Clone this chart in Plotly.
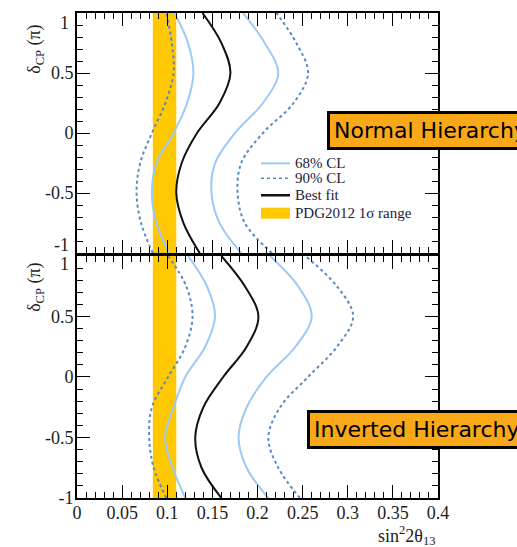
import plotly.graph_objects as go

# ---- data ----
delta = [-1, -0.75, -0.5, -0.25, 0, 0.25, 0.5, 0.75, 1]

# Normal hierarchy
nh_best = [0.136, 0.118, 0.110, 0.116, 0.133, 0.158, 0.170, 0.160, 0.139]
nh_68_in = [0.102, 0.088, 0.083, 0.088, 0.107, 0.122, 0.129, 0.123, 0.108]
nh_68_out = [0.182, 0.158, 0.149, 0.153, 0.175, 0.206, 0.223, 0.208, 0.184]
nh_90_in = [0.084, 0.071, 0.066, 0.070, 0.083, 0.098, 0.107, 0.105, 0.099]
nh_90_out = [0.216, 0.186, 0.178, 0.182, 0.206, 0.240, 0.256, 0.243, 0.221]

# Inverted hierarchy
ih_best = [0.160, 0.138, 0.131, 0.140, 0.162, 0.188, 0.201, 0.186, 0.160]
ih_68_in = [0.120, 0.106, 0.0975, 0.107, 0.120, 0.142, 0.153, 0.144, 0.123]
ih_68_out = [0.212, 0.188, 0.179, 0.188, 0.210, 0.242, 0.260, 0.245, 0.214]
ih_90_in = [0.099, 0.085, 0.080, 0.083, 0.101, 0.120, 0.128, 0.121, 0.101]
ih_90_out = [0.247, 0.223, 0.212, 0.225, 0.256, 0.288, 0.306, 0.288, 0.253]

pdg_range = [0.084, 0.110]  # PDG2012 1 sigma range of sin^2 2theta13

x_ticks = [0, 0.05, 0.1, 0.15, 0.2, 0.25, 0.3, 0.35, 0.4]
y_ticks_inner = [-0.5, 0, 0.5]
legend_labels = ["68% CL", "90% CL", "Best fit", "PDG2012 1σ range"]

# ---- styles ----
C68 = "#9ccaf6"
C90 = "#5a8ac4"
CBEST = "#111111"
CBAND = "#ffc800"
SERIF = "Liberation Serif"
TXT = "#222222"

# plot area in pixels (for placing paper-referenced decorations)
L, R, T, B = 77, 438, 11, 498


def px2x(px):
    return (px - L) / (R - L)


def py2y(py):
    return (B - py) / (B - T)


fig = go.Figure()

panels = [("y2", nh_best, nh_68_in, nh_68_out, nh_90_in, nh_90_out),
          ("y", ih_best, ih_68_in, ih_68_out, ih_90_in, ih_90_out)]

for ya, best, i68, o68, i90, o90 in panels:
    xa = "x2" if ya == "y2" else "x"
    bx = [pdg_range[0], pdg_range[1], pdg_range[1], pdg_range[0], pdg_range[0]]
    by = [-1, -1, 1, 1, -1]
    fig.add_trace(go.Scatter(x=bx, y=by, fill="toself", fillcolor=CBAND, mode="lines",
                             line=dict(width=0, color=CBAND), name=legend_labels[3],
                             showlegend=False, xaxis=xa, yaxis=ya, hoverinfo="skip"))
    for xs, nm, st in [(i90, legend_labels[1], dict(color=C90, width=2, dash="dot")),
                       (o90, legend_labels[1], dict(color=C90, width=2, dash="dot")),
                       (i68, legend_labels[0], dict(color=C68, width=2)),
                       (o68, legend_labels[0], dict(color=C68, width=2)),
                       (best, legend_labels[2], dict(color=CBEST, width=2))]:
        fig.add_trace(go.Scatter(x=xs, y=delta, mode="lines",
                                 line=dict(shape="spline", smoothing=1, **st),
                                 name=nm, showlegend=False, xaxis=xa, yaxis=ya))

axis_common = dict(showline=True, linecolor="black", linewidth=1.6, mirror="allticks",
                   ticks="inside", ticklen=13, tickwidth=1.2, tickcolor="black",
                   showgrid=False, zeroline=False,
                   tickfont=dict(family=SERIF, size=18, color=TXT))
xminor = dict(ticks="inside", dtick=0.01, ticklen=6, tickcolor="black", tickwidth=1)
yminor = dict(ticks="inside", dtick=0.1, ticklen=6, tickcolor="black", tickwidth=1)

fig.update_layout(
    width=517, height=547, autosize=False,
    margin=dict(l=L, r=517 - R, t=T, b=547 - B),
    plot_bgcolor="white", paper_bgcolor="white",
    showlegend=False,
    xaxis=dict(domain=[0, 1], range=[0, 0.4], tickvals=x_ticks, ticktext=[f"{v:g}" for v in x_ticks],
               anchor="y", minor=xminor, ticklabelstandoff=-2, **axis_common),
    xaxis2=dict(domain=[0, 1], range=[0, 0.4], tickvals=x_ticks, matches="x", anchor="y2",
                showticklabels=False, minor=xminor, **axis_common),
    yaxis=dict(domain=[0, 0.499], range=[-1, 1], tickvals=[-1] + y_ticks_inner,
               ticktext=[f"{v:g}" for v in [-1] + y_ticks_inner],
               anchor="x", minor=yminor, ticklabelstandoff=-2, **axis_common),
    yaxis2=dict(domain=[0.505, 1], range=[-1, 1], tickvals=y_ticks_inner,
                ticktext=[f"{v:g}" for v in y_ticks_inner],
                anchor="x2", minor=yminor, ticklabelstandoff=-2, **axis_common),
)

# end-of-range y labels, shifted inward as in the reference
for txt, py in [("1", 21), ("-1", 244), ("1", 263)]:
    fig.add_annotation(text=txt, xref="paper", yref="paper", x=px2x(71), y=py2y(py),
                       xanchor="right", yanchor="middle", showarrow=False,
                       font=dict(family=SERIF, size=18, color=TXT))

# axis titles
for py in [48, 287]:
    fig.add_annotation(text="δ<sub>CP</sub> (π)", xref="paper", yref="paper", x=px2x(36), y=py2y(py),
                       xanchor="center", yanchor="middle",
                       textangle=-90, showarrow=False, font=dict(family=SERIF, size=18, color=TXT))
fig.add_annotation(text="sin<sup>2</sup>2θ<sub>13</sub>", xref="paper", yref="paper", x=1.0, y=py2y(536),
                   xanchor="right", yanchor="middle", showarrow=False,
                   font=dict(family=SERIF, size=18, color=TXT))

# manual legend (top panel)
leg_x0, leg_x1, leg_tx = 261, 290, 293
rows = [162, 177, 194, 212]
styles = [dict(color=C68, width=2), dict(color=C90, width=1.5, dash="dot"), dict(color=CBEST, width=2.5)]
for py, st in zip(rows[:3], styles):
    fig.add_shape(type="line", xref="paper", yref="paper", x0=px2x(leg_x0), x1=px2x(leg_x1),
                  y0=py2y(py), y1=py2y(py), line=st)
fig.add_shape(type="rect", xref="paper", yref="paper", x0=px2x(leg_x0), x1=px2x(leg_x1),
              y0=py2y(rows[3] + 5.5), y1=py2y(rows[3] - 5.5), fillcolor=CBAND, line=dict(width=0))
for py, lab in zip(rows, legend_labels):
    fig.add_annotation(text=lab, xref="paper", yref="paper", x=px2x(leg_tx), y=py2y(py),
                       xanchor="left", yanchor="middle", showarrow=False,
                       font=dict(family=SERIF, size=15, color="#1c1c3c"))

# hierarchy labels (run off the right edge, as in the reference)
for txt, pxl, pyc in [("Normal Hierarchy", 327, 129), ("Inverted Hierarchy", 307, 429)]:
    fig.add_annotation(text=txt, xref="paper", yref="paper", x=px2x(pxl), y=py2y(pyc),
                       xanchor="left", yanchor="middle",
                       showarrow=False, bgcolor="#f9a818", bordercolor="black", borderwidth=3, borderpad=4,
                       font=dict(family="DejaVu Sans", size=22, color="black"))

fig.write_html("out.html")
